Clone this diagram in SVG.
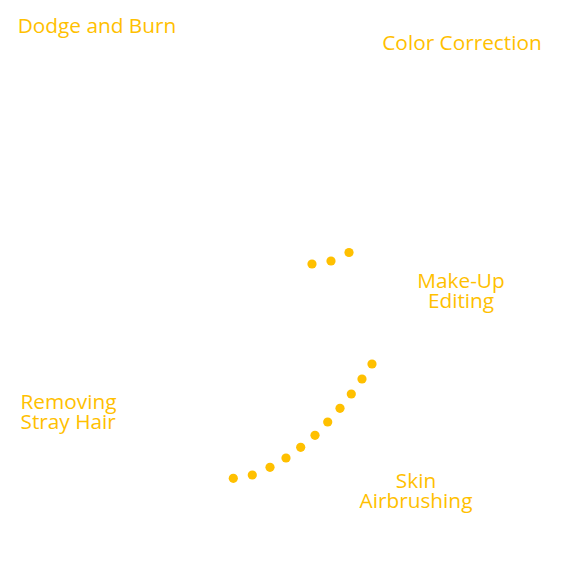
<svg xmlns="http://www.w3.org/2000/svg" width="575" height="575" viewBox="0 0 575 575">
<style>
.lbl{font-family:"Open Sans","Liberation Sans",sans-serif;font-size:20.8px;fill:#FFC000}
.dot{fill:#FFC000}
</style>
<rect width="575" height="575" fill="#fff"/>
<g id="connectors">
<circle class="dot" cx="312" cy="264" r="4.6"/>
<circle class="dot" cx="331" cy="261" r="4.6"/>
<circle class="dot" cx="349" cy="252.5" r="4.6"/>
<circle class="dot" cx="233.3" cy="478.3" r="4.6"/>
<circle class="dot" cx="252.3" cy="475" r="4.6"/>
<circle class="dot" cx="270" cy="467.3" r="4.6"/>
<circle class="dot" cx="286" cy="458" r="4.6"/>
<circle class="dot" cx="300.7" cy="447.3" r="4.6"/>
<circle class="dot" cx="315" cy="435.3" r="4.6"/>
<circle class="dot" cx="327.7" cy="422" r="4.6"/>
<circle class="dot" cx="340" cy="408.3" r="4.6"/>
<circle class="dot" cx="351.3" cy="394" r="4.6"/>
<circle class="dot" cx="362" cy="379" r="4.6"/>
<circle class="dot" cx="372" cy="364" r="4.6"/>
</g>
<g id="dodge-burn"><text class="lbl" x="97" y="33" text-anchor="middle">Dodge and Burn</text></g>
<g id="color-correction"><text class="lbl" x="462" y="50" text-anchor="middle">Color Correction</text></g>
<g id="make-up"><text class="lbl" x="461" y="288" text-anchor="middle">Make-Up</text><text class="lbl" x="461" y="308" text-anchor="middle">Editing</text></g>
<g id="stray-hair"><text class="lbl" x="20.5" y="409">Removing</text><text class="lbl" x="20.5" y="429">Stray Hair</text></g>
<g id="skin"><text class="lbl" x="416" y="488" text-anchor="middle">Skin</text><text class="lbl" x="416" y="508" text-anchor="middle">Airbrushing</text></g>
</svg>
